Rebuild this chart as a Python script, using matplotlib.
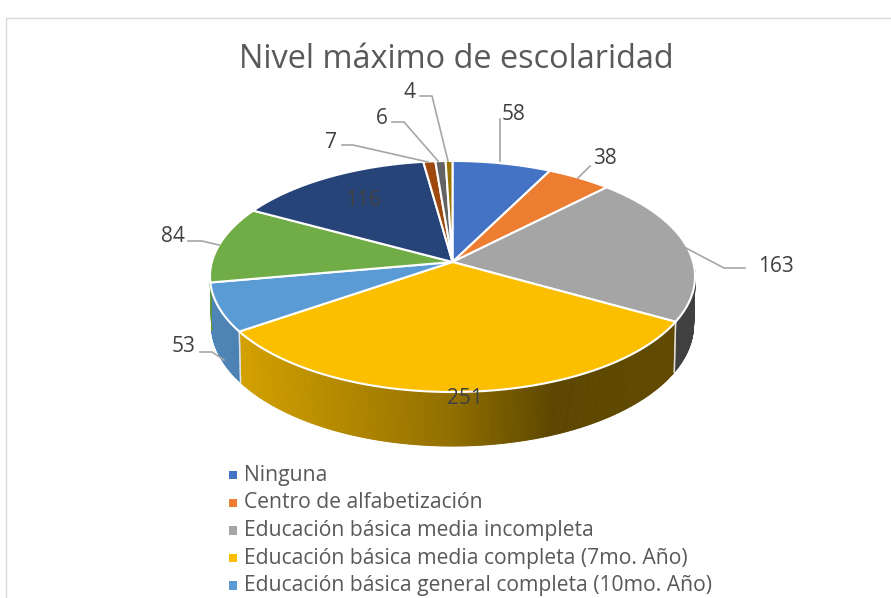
import numpy as np
import matplotlib
matplotlib.use('Agg')
import matplotlib.pyplot as plt
from matplotlib.colors import to_rgb
from matplotlib.patches import Rectangle

categories = ['Ninguna', 'Centro de alfabetización', 'Educación básica media incompleta',
              'Educación básica media completa (7mo. Año)', 'Educación básica general completa (10mo. Año)',
              'Bachillerato', 'Universitaria', 'Técnica', 'Otra', 'No responde']
values = [58, 38, 163, 251, 53, 84, 116, 7, 6, 4]
colors = ['#4472C4', '#ED7D31', '#A5A5A5', '#FBBF00', '#5B9BD5', '#70AD47', '#264478', '#9E480E', '#636363', '#997300']
legend_shown = 5
title = 'Nivel máximo de escolaridad'

W, H = 891, 598
plt.rcParams['font.family'] = 'Open Sans'
fig = plt.figure(figsize=(W/100, H/100), dpi=100)
ax = fig.add_axes([0, 0, 1, 1])
ax.set_xlim(0, W); ax.set_ylim(H, 0); ax.axis('off')

# chart frame
ax.plot([6, 6], [598, 18], color='#D9D9D9', lw=1)
ax.plot([6, 891], [18, 18], color='#D9D9D9', lw=1)

# perspective disk projection
cx, cy, A, B, k = 452.5, 262, 240.6, 113.7, 0.1255
DEPTH, SHRINK = 47.25, 0.994
WALL_START, WALL_END, SEAM_END = np.radians(90), np.radians(260), np.radians(250)

def top(theta):
    X, Y = np.sin(theta), np.cos(theta)
    w = 1 + k*Y
    return cx + A*X/w, cy - B*Y/w

def bottom(theta):
    x, y = top(theta)
    w = 1 + k*np.cos(theta)
    return cx + (x - cx)*SHRINK, y + DEPTH/w

total = sum(values)
edges = np.radians(np.cumsum([0] + values) / total * 360)

def shade(x):
    return np.interp(x, [210, 241, 450, 552, 694], [.86, .84, .58, .37, .39])

# side wall, front part only
for i in range(len(values)):
    a0, a1 = edges[i], edges[i+1]
    lo, hi = max(a0, WALL_START), min(a1, WALL_END)
    if hi <= lo:
        continue
    ts = np.linspace(lo, hi, int(max(4, (hi-lo)*130)))
    base = np.array(to_rgb(colors[i]))
    for t0, t1 in zip(ts[:-1], ts[1:]):
        x0, y0 = top(t0); x1, y1 = top(t1)
        x2, y2 = bottom(t1); x3, y3 = bottom(t0)
        c = tuple(base*shade(0.5*(x0+x1)))
        ax.fill([x0, x1, x2, x3], [y0, y1, y2, y3], facecolor=c, edgecolor=c, lw=0.7, zorder=2)
    for t in (a0, a1):
        if WALL_START < t < SEAM_END:
            p, q = top(t), bottom(t)
            ax.plot([p[0], q[0]], [p[1], q[1]], color='#E8E8E8', lw=1, alpha=.8, zorder=2.5)

# top faces
for i in range(len(values)):
    ts = np.linspace(edges[i], edges[i+1], 160)
    xs, ys = top(ts)
    ax.fill(np.r_[cx, xs, cx], np.r_[cy, ys, cy], facecolor=colors[i],
            edgecolor='white', lw=1.5, zorder=3, joinstyle='round')

# data-label layout, in slice order
label_xy = [(514, 114), (605, 159), (776, 266), (465, 398), (184, 347),
            (173, 237), (363, 200), (331, 143), (382, 118), (410, 92)]
leaders = [
    [(500, 119), (500, 161)],
    [(590, 166), (578, 178)],
    [(745, 268), (724, 268), (686, 248)],
    None,
    [(200, 352), (212, 352), (224, 360)],
    [(188, 241), (202, 241), (219, 245)],
    None,
    [(342, 145), (353, 145), (428, 162)],
    [(392, 122), (404, 122), (438, 161)],
    [(420, 96), (432, 96), (448, 161)],
]
for v, (x, y), leader in zip(values, label_xy, leaders):
    if leader:
        xs, ys = zip(*leader)
        ax.plot(xs, ys, color='#A6A6A6', lw=1.2, zorder=4)
    ax.text(x, y, str(v), fontsize=15, color='#404040', ha='center', va='center', zorder=5)

ax.text(456, 60, title, fontsize=23.4, color='#595959', ha='center', va='center', zorder=5)

marker_y = [475, 503, 530.5, 558, 585.5]
base_y = [481, 508.5, 536, 564, 591.5]
for name, col, my, by in zip(categories[:legend_shown], colors, marker_y, base_y):
    ax.add_patch(Rectangle((228.5, my-4.5), 8.5, 8.5, fc=col, ec='none', zorder=5))
    ax.text(244, by, name, fontsize=15.2, color='#595959', ha='left', va='baseline', zorder=5)

fig.savefig('out.png', dpi=100)
